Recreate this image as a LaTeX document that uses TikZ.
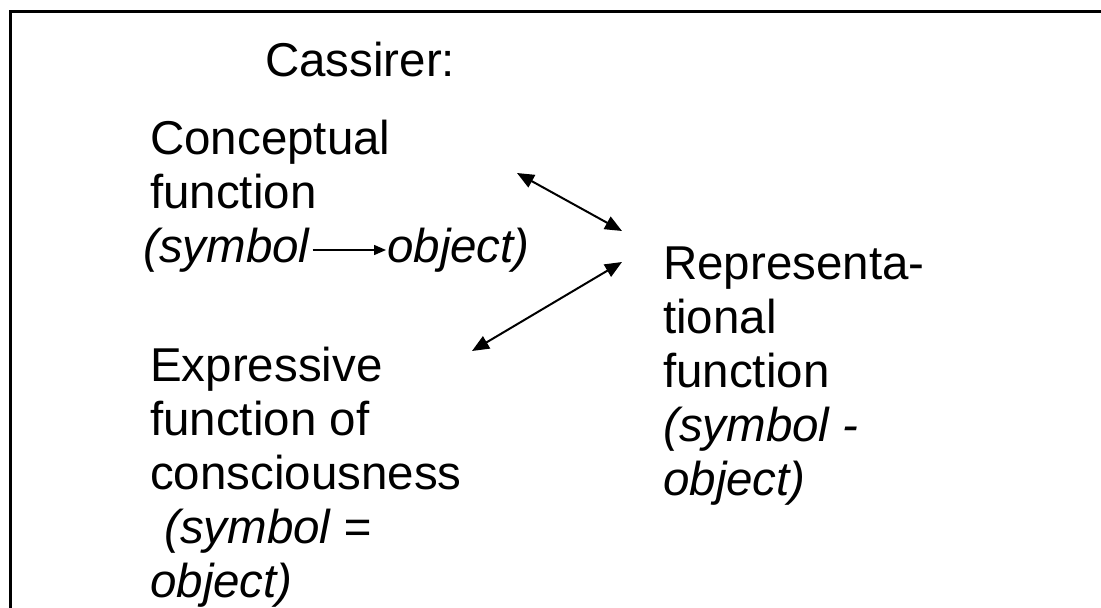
\documentclass[tikz,border=0pt]{standalone}
\usepackage{fontspec}
\setmainfont{Liberation Sans}
\usetikzlibrary{arrows.meta}
\begin{document}
\begin{tikzpicture}[x=1pt,y=-1pt,
txt/.style={anchor=base west,inner sep=0pt,align=left,font=\fontsize{47.5}{54}\selectfont},
link/.style={line width=2pt,{Triangle[length=17pt,width=14pt]}-{Triangle[length=17pt,width=14pt]}}]
\useasboundingbox(0,0)rectangle(1101,608);
\draw[line width=3pt](10,608)--(10,11)--(1101,11);
\node[txt](cass)at(265,76){Cassirer:};
\node[txt](concept)at(150,208){Conceptual\\function};
\node[txt](csym)at(143,262){\textit{(symbol}};
\node[txt](cobj)at(387,262){\textit{object)}};
\draw[line width=1.5pt,-{Triangle[length=12pt,width=10pt]}]([xshift=2pt,yshift=12pt]csym.base east)--([xshift=-1pt,yshift=12pt]cobj.base west);
\node[txt](expr)at(150,597){Expressive\\function of\\consciousness\\\hspace*{14pt}\textit{(symbol =}\\\textit{object)}};
\node[txt](repr)at(663,495){Representa-\\tional\\function\\\textit{(symbol -}\\\textit{object)}};
\coordinate(a1)at(517,173);\coordinate(a2)at(622,231);
\coordinate(b1)at(472,351);\coordinate(b2)at(622,262);
\draw[link](a1)--(a2);\draw[link](b1)--(b2);
\end{tikzpicture}
\end{document}
